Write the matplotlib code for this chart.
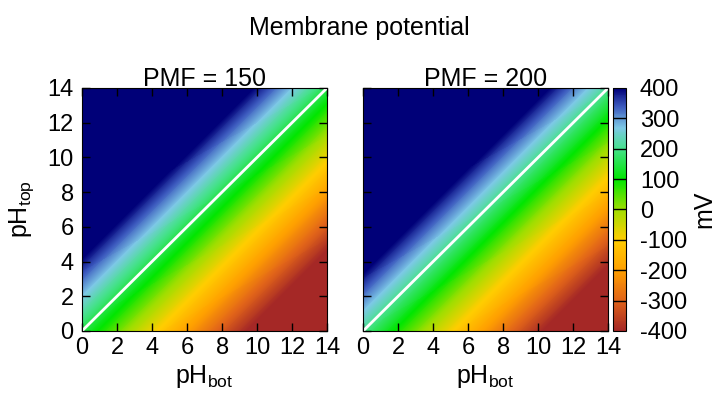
import matplotlib
matplotlib.use('Agg')
import matplotlib.pyplot as plt
import numpy as np
from matplotlib.colors import LinearSegmentedColormap, Normalize
from matplotlib.cm import ScalarMappable

plt.rcParams['font.family'] = ['Liberation Sans', 'DejaVu Sans']
plt.rcParams['mathtext.default'] = 'regular'

# grid of pH values (every 2 units)
ph_bot = [0, 2, 4, 6, 8, 10, 12, 14]
ph_top = [0, 2, 4, 6, 8, 10, 12, 14]

# membrane potential (mV), rows = pH_top, columns = pH_bot
mv_pmf150 = [
    [150, 32, -86, -204, -322, -440, -558, -676],
    [268, 150, 32, -86, -204, -322, -440, -558],
    [386, 268, 150, 32, -86, -204, -322, -440],
    [504, 386, 268, 150, 32, -86, -204, -322],
    [622, 504, 386, 268, 150, 32, -86, -204],
    [740, 622, 504, 386, 268, 150, 32, -86],
    [858, 740, 622, 504, 386, 268, 150, 32],
    [976, 858, 740, 622, 504, 386, 268, 150],
]
mv_pmf200 = [
    [200, 82, -36, -154, -272, -390, -508, -626],
    [318, 200, 82, -36, -154, -272, -390, -508],
    [436, 318, 200, 82, -36, -154, -272, -390],
    [554, 436, 318, 200, 82, -36, -154, -272],
    [672, 554, 436, 318, 200, 82, -36, -154],
    [790, 672, 554, 436, 318, 200, 82, -36],
    [908, 790, 672, 554, 436, 318, 200, 82],
    [1026, 908, 790, 672, 554, 436, 318, 200],
]
titles = ['PMF = 150', 'PMF = 200']
cbar_ticks = [-400, -300, -200, -100, 0, 100, 200, 300, 400]
cbar_labels = ['-400', '-300', '-200', '-100', '0', '100', '200', '300', '400']

# palette similar to the gnuplot one
anchors = [
    (-400, (165, 40, 38)),
    (-300, (225, 100, 25)),
    (-200, (255, 160, 0)),
    (-100, (255, 205, 0)),
    (0, (160, 222, 0)),
    (100, (0, 230, 0)),
    (200, (70, 225, 140)),
    (270, (125, 200, 230)),
    (340, (60, 90, 190)),
    (400, (0, 0, 120)),
]
cmap = LinearSegmentedColormap.from_list(
    'mv', [((v + 400) / 800, tuple(c / 255 for c in rgb)) for v, rgb in anchors])
cmap.set_under(np.array(anchors[0][1]) / 255)
cmap.set_over(np.array(anchors[-1][1]) / 255)
norm = Normalize(-400, 400)
levels = np.linspace(-400, 400, 241)

fs = 17
fig = plt.figure(figsize=(7.19, 3.94), dpi=100)
fig.text(0.5, 0.93, 'Membrane potential', ha='center', va='center', fontsize=18)

lefts = [0.114, 0.505]
for k, (data, title) in enumerate(zip([mv_pmf150, mv_pmf200], titles)):
    ax = fig.add_axes([lefts[k], 0.160, 0.341, 0.617])
    ax.contourf(ph_bot, ph_top, np.array(data), levels=levels, cmap=cmap,
                norm=norm, extend='both')
    ax.plot([0, 14], [0, 14], color='white', lw=2)
    ax.set_xlim(0, 14)
    ax.set_ylim(0, 14)
    ax.set_xticks(range(0, 15, 2))
    ax.set_yticks(range(0, 15, 2))
    ax.tick_params(direction='in', top=True, right=True, length=6, width=1,
                   labelsize=fs)
    ax.tick_params(axis='x', pad=4)
    ax.tick_params(axis='y', pad=6)
    ax.set_xlabel('pH$_{bot}$', fontsize=fs + 1, labelpad=3)
    if k == 0:
        ax.set_ylabel('pH$_{top}$', fontsize=fs + 1, labelpad=8)
    else:
        ax.set_yticklabels([])
    ax.set_title(title, fontsize=fs + 1, pad=1)

cax = fig.add_axes([0.8526, 0.160, 0.018, 0.617])
cb = fig.colorbar(ScalarMappable(norm=norm, cmap=cmap), cax=cax, ticks=cbar_ticks)
cb.set_ticklabels(cbar_labels)
for t in cbar_ticks[1:-1]:
    cax.axhline(t, color='black', lw=1)
cax.tick_params(length=0, labelsize=fs, pad=10)
cb.set_label('mV', fontsize=fs + 1, labelpad=4)

fig.savefig('out.png', dpi=100)
